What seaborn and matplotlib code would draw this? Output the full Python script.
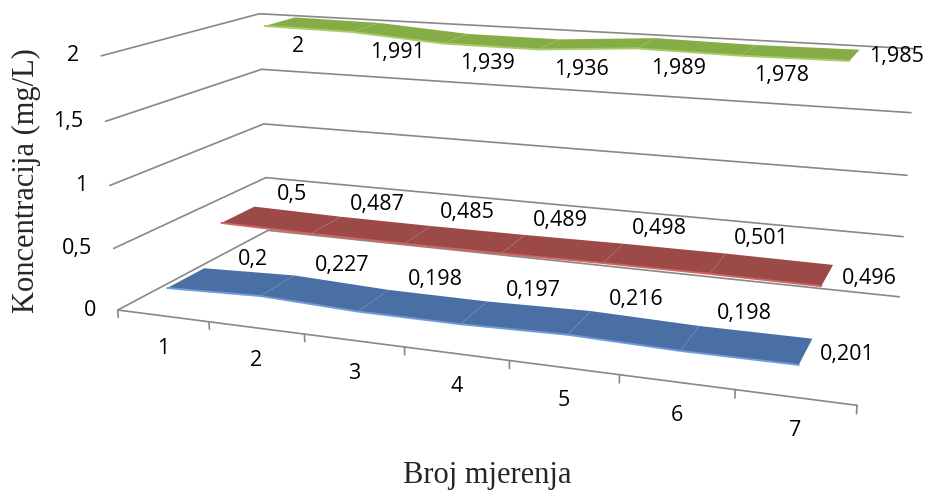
import numpy as np
import pandas as pd
import seaborn as sns
import matplotlib
matplotlib.use("Agg")
import matplotlib.pyplot as plt
from mpl_toolkits.mplot3d import proj3d

# ---- data ----
categories = [1, 2, 3, 4, 5, 6, 7]
series_blue = [0.2, 0.227, 0.198, 0.197, 0.216, 0.198, 0.201]
series_red = [0.5, 0.487, 0.485, 0.489, 0.498, 0.501, 0.496]
series_green = [2, 1.991, 1.939, 1.936, 1.989, 1.978, 1.985]
z_ticks = [0, 0.5, 1, 1.5, 2]
z_tick_labels = ["0", "0,5", "1", "1,5", "2"]
x_label = "Broj mjerenja"
y_label = "Koncentracija (mg/L)"

sns.set_theme(style="white")
plt.rcParams["font.family"] = ["Open Sans", "DejaVu Sans"]

W, H = 925, 493
fig = plt.figure(figsize=(W / 100, H / 100), dpi=100)
ax = fig.add_axes([0.1030, -0.2143, 0.8807, 1.6524], projection="3d", computed_zorder=False)
ax.set_xlim(0.5, 7.5)
ax.set_ylim(0, 3)
ax.set_zlim(0, 2)
ax.set_proj_type("persp", focal_length=0.3538)
ax.view_init(elev=14.033, azim=-70.043)
ax.set_box_aspect((1.0, 0.4243, 0.3520), zoom=1.0)
ax.set_axis_off()

grid_c = "#888888"
x0, x1 = 0.5, 7.5
y0, y1 = 0.0, 3.0
for z in z_ticks:
    ax.plot([x0, x0], [y0, y1], [z, z], color=grid_c, lw=1.2, zorder=1, clip_on=False)
    ax.plot([x0, x1], [y1, y1], [z, z], color=grid_c, lw=1.2, zorder=1, clip_on=False)
ax.plot([x0, x1], [y0, y0], [0, 0], color=grid_c, lw=1.2, zorder=1, clip_on=False)
for b in np.arange(0.5, 8.0, 1.0):
    ax.plot([b, b], [y0, y0], [0, -0.06], color=grid_c, lw=1.2, zorder=1, clip_on=False)

# (values, front-edge depth, colour, front-edge colour, label offset rule)
series = [
    (series_green, 2.20, "#86ac46", "#a9cc6a", lambda i: (22 if i == 0 else 35, -24)),
    (series_red, 1.15, "#9b4a47", "#d06562", lambda i: (58 - 2.4 * i, 22 + 1.2 * i)),
    (series_blue, 0.10, "#4a6fa5", "#6f9bd8", lambda i: (72 - 3 * i, 21 + 1.4 * i)),
]
w = 0.68
xs = np.array(categories, dtype=float)
for vals, yf, col, light, _ in series:
    vv = np.array(vals, dtype=float)
    X = np.vstack([xs, xs])
    Y = np.vstack([np.full_like(xs, yf), np.full_like(xs, yf + w)])
    Z = np.vstack([vv, vv])
    sf = ax.plot_surface(X, Y, Z, color=col, shade=False, linewidth=0, antialiased=True, zorder=3)
    sf.set_clip_on(False)
    ax.plot(xs, np.full_like(xs, yf), vv, color=light, lw=1.4, zorder=4, clip_on=False)

M = ax.get_proj()

def proj(x, y, z):
    a, b, _ = proj3d.proj_transform(x, y, z, M)
    return a, b

lab_font = dict(fontsize=15.5, color="black")
for vals, yf, col, light, off in series:
    for i, (c, val) in enumerate(zip(categories, vals)):
        txt = str(val).replace(".", ",")
        q = proj(c, yf + 0.25, val)
        if i == len(categories) - 1:
            ax.annotate(txt, xy=q, xycoords="data", xytext=(16, 0), textcoords="offset pixels",
                        ha="left", va="center", annotation_clip=False, zorder=6, **lab_font)
        else:
            ax.annotate(txt, xy=q, xycoords="data", xytext=off(i), textcoords="offset pixels",
                        ha="center", va="center", annotation_clip=False, zorder=6, **lab_font)

for z, tl in zip(z_ticks, z_tick_labels):
    q = proj(x0, y0, z)
    ax.annotate(tl, xy=q, xycoords="data", xytext=(-22, 0), textcoords="offset pixels",
                ha="right", va="center", annotation_clip=False, **lab_font)

for c in categories:
    q = proj(c, y0, 0)
    ax.annotate(str(c), xy=q, xycoords="data", xytext=(0, -33), textcoords="offset pixels",
                ha="center", va="center", annotation_clip=False, **lab_font)

fig.text(26 / W, 1 - 181 / H, y_label, rotation=90, ha="center", va="center",
         family=["Liberation Serif", "DejaVu Serif"], fontsize=22)
fig.text(487 / W, 1 - 483 / H, x_label, ha="center", va="baseline",
         family=["Liberation Serif", "DejaVu Serif"], fontsize=22)

fig.savefig("out.png", dpi=100)
